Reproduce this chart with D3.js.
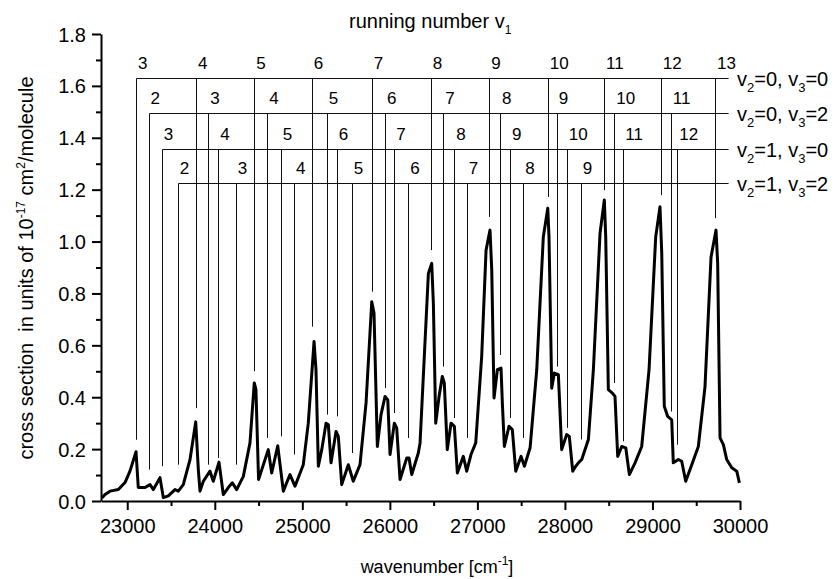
<!DOCTYPE html>
<html>
<head>
<meta charset="utf-8">
<script src="https://cdn.jsdelivr.net/npm/d3@7"></script>
<style>
  body { margin: 0; background: #fff; }
  svg { display: block; font-family: "Liberation Sans", Arial, sans-serif; }
  text { white-space: pre; }
</style>
</head>
<body>
<div id="chart"></div>
<script>
// spectrum: [wavenumber, cross section]
const spectrum = [
  [22710,0.012],[22746,0.025],[22803,0.038],[22898,0.044],[22974,0.071],[23031,0.115],[23100,0.19],
  [23126,0.052],[23203,0.052],[23260,0.063],[23298,0.044],[23374,0.09],[23412,0.013],[23469,0.02],
  [23545,0.044],[23583,0.038],[23640,0.063],[23717,0.16],[23782,0.305],[23812,0.12],[23831,0.038],
  [23869,0.076],[23945,0.115],[23983,0.076],[24048,0.15],[24097,0.025],[24154,0.052],[24200,0.07],
  [24250,0.044],[24326,0.095],[24402,0.224],[24451,0.455],[24470,0.43],[24500,0.083],[24611,0.198],
  [24650,0.108],[24719,0.213],[24783,0.038],[24859,0.102],[24916,0.057],[25011,0.14],[25068,0.30],
  [25134,0.615],[25156,0.506],[25183,0.134],[25222,0.198],[25271,0.30],[25297,0.294],[25328,0.147],
  [25385,0.268],[25411,0.249],[25450,0.063],[25525,0.14],[25582,0.076],[25659,0.14],[25728,0.378],
  [25793,0.768],[25819,0.724],[25857,0.21],[25899,0.333],[25945,0.403],[25976,0.39],[26002,0.179],
  [26051,0.30],[26078,0.282],[26116,0.083],[26193,0.166],[26219,0.166],[26250,0.102],[26325,0.185],
  [26345,0.224],[26440,0.877],[26478,0.916],[26497,0.762],[26524,0.30],[26562,0.403],[26599,0.48],
  [26622,0.455],[26656,0.198],[26699,0.30],[26737,0.288],[26771,0.108],[26839,0.172],[26878,0.115],
  [26927,0.179],[26981,0.224],[27049,0.557],[27099,0.967],[27144,1.044],[27164,0.89],[27190,0.397],
  [27228,0.506],[27270,0.512],[27285,0.378],[27308,0.21],[27361,0.288],[27399,0.275],[27438,0.115],
  [27499,0.172],[27537,0.134],[27602,0.205],[27678,0.506],[27753,1.018],[27804,1.128],[27818,1.018],
  [27849,0.435],[27879,0.493],[27925,0.487],[27963,0.198],[28020,0.256],[28050,0.249],[28089,0.115],
  [28115,0.13],[28161,0.15],[28192,0.16],[28268,0.237],[28325,0.506],[28401,1.032],[28450,1.16],
  [28466,1.018],[28496,0.429],[28542,0.416],[28572,0.403],[28603,0.172],[28649,0.21],[28695,0.205],
  [28736,0.102],[28801,0.147],[28877,0.21],[28961,0.506],[29037,1.018],[29086,1.134],[29106,0.955],
  [29135,0.365],[29174,0.326],[29220,0.313],[29238,0.147],[29296,0.16],[29334,0.153],[29380,0.076],
  [29449,0.14],[29524,0.21],[29600,0.44],[29669,0.94],[29726,1.044],[29745,0.916],[29772,0.243],
  [29810,0.217],[29848,0.16],[29906,0.128],[29963,0.115],[29993,0.07]
];

const xTicks = [23000, 24000, 25000, 26000, 27000, 28000, 29000, 30000];
const xMinorTicks = [23500, 24500, 25500, 26500, 27500, 28500, 29500];
const yTicks = [0, 0.2, 0.4, 0.6, 0.8, 1.0, 1.2, 1.4, 1.6, 1.8];
const yMinorTicks = [0.1, 0.3, 0.5, 0.7, 0.9, 1.1, 1.3, 1.5, 1.7];

// assignment progressions (v2, v3), level of the bar, band positions, running numbers, line bottoms
const rowV2 = ['0', '0', '1', '1'];
const rowV3 = ['0', '2', '0', '2'];
const rowLevels = [1.629, 1.494, 1.356, 1.225];
const rowEndWn = 29870;

const row1Pos = [23100, 23785, 24451, 25107, 25793, 26467, 27136, 27804, 28447, 29095, 29715];
const row1Num = [3, 4, 5, 6, 7, 8, 9, 10, 11, 12, 13];
const row1Bottom = [0.236, 0.358, 0.5, 0.672, 0.807, 0.967, 1.095, 1.172, 1.198, 1.179, 1.09];

const row2Pos = [23243, 23926, 24600, 25279, 25945, 26611, 27259, 27906, 28564, 29209];
const row2Num = [2, 3, 4, 5, 6, 7, 8, 9, 10, 11];
const row2Bottom = [0.121, 0.14, 0.243, 0.333, 0.435, 0.518, 0.563, 0.518, 0.455, 0.345];

const row3Pos = [23393, 24040, 24753, 25393, 26051, 26736, 27373, 28021, 28667, 29284];
const row3Num = [3, 4, 5, 6, 7, 8, 9, 10, 11, 12];
const row3Bottom = [0.134, 0.166, 0.249, 0.326, 0.339, 0.32, 0.32, 0.282, 0.23, 0.217];

const row4Pos = [23576, 24239, 24905, 25564, 26211, 26878, 27525, 28181];
const row4Num = [2, 3, 4, 5, 6, 7, 8, 9];
const row4Bottom = [0.14, 0.14, 0.179, 0.185, 0.243, 0.243, 0.243, 0.237];

const rowPos = [row1Pos, row2Pos, row3Pos, row4Pos];
const rowNum = [row1Num, row2Num, row3Num, row4Num];
const rowBottom = [row1Bottom, row2Bottom, row3Bottom, row4Bottom];

const width = 840, height = 579;
const plot = {left: 101, right: 740, top: 34, bottom: 501};

const svg = d3.select('#chart').append('svg')
  .attr('width', width)
  .attr('height', height);

svg.append('rect').attr('width', width).attr('height', height).attr('fill', '#fff');

const x = d3.scaleLinear().domain([22700, 30000]).range([plot.left, plot.right]);
const y = d3.scaleLinear().domain([0, 1.8]).range([plot.bottom, plot.top]);

// assignment combs
const comb = svg.append('g').attr('stroke', '#111').attr('stroke-width', 1).attr('fill', 'none');
rowLevels.forEach((lev, i) => {
  const yy = Math.round(y(lev)) + 0.5;
  comb.append('line')
    .attr('x1', Math.round(x(rowPos[i][0])) + 0.5).attr('x2', x(rowEndWn))
    .attr('y1', yy).attr('y2', yy);
  comb.selectAll(null)
    .data(rowPos[i].map((p, k) => ({p: p, b: rowBottom[i][k]})))
    .enter().append('line')
    .attr('x1', d => Math.round(x(d.p)) + 0.5)
    .attr('x2', d => Math.round(x(d.p)) + 0.5)
    .attr('y1', yy)
    .attr('y2', d => y(d.b));

  svg.append('g').selectAll('text')
    .data(rowPos[i].map((p, k) => ({p: p, n: rowNum[i][k]})))
    .enter().append('text')
    .attr('x', d => x(d.p) + 2)
    .attr('y', yy - 10)
    .attr('font-size', 17)
    .text(d => d.n);

  const lab = svg.append('text')
    .attr('x', 737)
    .attr('y', yy + 7)
    .attr('font-size', 20);
  lab.append('tspan').text('v');
  lab.append('tspan').attr('font-size', 13).attr('dy', 6).text('2');
  lab.append('tspan').attr('dy', -6).text('=' + rowV2[i] + ', v');
  lab.append('tspan').attr('font-size', 13).attr('dy', 6).text('3');
  lab.append('tspan').attr('dy', -6).text('=' + rowV3[i]);
});

// spectrum
const line = d3.line()
  .x(d => x(d[0]))
  .y(d => y(d[1]));

svg.append('path')
  .datum(spectrum)
  .attr('fill', 'none')
  .attr('stroke', '#000')
  .attr('stroke-width', 3)
  .attr('stroke-linejoin', 'round')
  .attr('d', line);

// axes
const xAxis = svg.append('g')
  .attr('transform', `translate(0,${plot.bottom})`)
  .call(d3.axisBottom(x).tickValues(xTicks).tickSize(9).tickSizeOuter(0).tickPadding(5).tickFormat(d3.format('d')));
svg.append('g')
  .attr('transform', `translate(0,${plot.bottom})`)
  .call(d3.axisBottom(x).tickValues(xMinorTicks).tickSize(5).tickFormat(''))
  .call(g => g.select('.domain').remove());

const yAxis = svg.append('g')
  .attr('transform', `translate(${plot.left},0)`)
  .call(d3.axisLeft(y).tickValues(yTicks).tickSize(9).tickSizeOuter(0).tickPadding(6).tickFormat(d3.format('.1f')));
svg.append('g')
  .attr('transform', `translate(${plot.left},0)`)
  .call(d3.axisLeft(y).tickValues(yMinorTicks).tickSize(5).tickFormat(''))
  .call(g => g.select('.domain').remove());

svg.selectAll('.domain').attr('stroke', '#000').attr('stroke-width', 2);
svg.selectAll('.tick line').attr('stroke', '#000').attr('stroke-width', 2);
svg.selectAll('g[font-family]').attr('font-family', null);
svg.selectAll('.tick text').attr('font-size', 20).attr('fill', '#000');
xAxis.selectAll('.tick text').attr('dy', null).attr('y', 32);
yAxis.selectAll('.tick text').attr('dy', '0.35em');

// titles
const topTitle = svg.append('text').attr('x', 349).attr('y', 28).attr('font-size', 20);
topTitle.append('tspan').text('running number v');
topTitle.append('tspan').attr('font-size', 12).attr('dy', 6).text('1');

const xTitle = svg.append('text').attr('x', 437).attr('y', 573).attr('text-anchor', 'middle').attr('font-size', 18);
xTitle.append('tspan').text('wavenumber [cm');
xTitle.append('tspan').attr('font-size', 12).attr('dy', -8).text('-1');
xTitle.append('tspan').attr('dy', 8).text(']');

const yTitle = svg.append('text')
  .attr('transform', 'translate(33,268) rotate(-90)')
  .attr('text-anchor', 'middle')
  .attr('font-size', 20);
yTitle.append('tspan').text('cross section  in units of 10');
yTitle.append('tspan').attr('font-size', 12).attr('dy', -8).text('-17');
yTitle.append('tspan').attr('dy', 8).text(' cm');
yTitle.append('tspan').attr('font-size', 12).attr('dy', -8).text('2');
yTitle.append('tspan').attr('dy', 8).text('/molecule');
</script>
</body>
</html>
